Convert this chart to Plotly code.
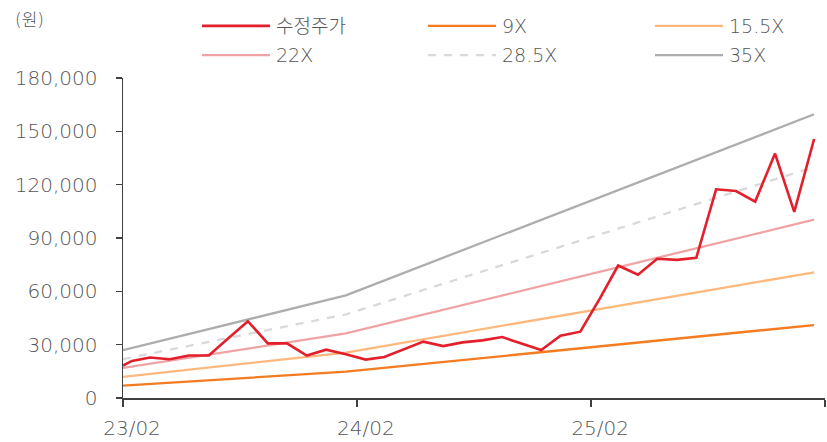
import plotly.graph_objects as go

# ---------------- data ----------------
price_dates = [
    "2023-02-01", "2023-02-15", "2023-03-15", "2023-04-15", "2023-05-15", "2023-06-15",
    "2023-07-15", "2023-08-15", "2023-09-15", "2023-10-15", "2023-11-15", "2023-12-15",
    "2024-01-15", "2024-02-15", "2024-03-15", "2024-04-15", "2024-05-15", "2024-06-15",
    "2024-07-15", "2024-08-15", "2024-09-15", "2024-10-15", "2024-11-15", "2024-12-15",
    "2025-01-15", "2025-02-15", "2025-03-15", "2025-04-15", "2025-05-15", "2025-06-15",
    "2025-07-15", "2025-08-15", "2025-09-15", "2025-10-15", "2025-11-15", "2025-12-15",
    "2026-01-15",
]
price_values = [
    18300, 20850, 22750, 21800, 23870, 23870,
    33500, 43200, 30750, 30750, 23870, 27200,
    24600, 21600, 23100, 27400, 31700, 29200,
    31300, 32400, 34300, 30600, 27000, 35000,
    37300, 56300, 74500, 69300, 78300, 77700,
    78800, 117400, 116400, 110500, 137500, 104700,
    145700,
]

eps_dates = ["2023-02-01", "2024-01-15", "2026-01-15"]
eps_values = [768, 1650, 4560]

band_names = ["9X", "15.5X", "22X", "28.5X", "35X"]
band_multiples = [9, 15.5, 22, 28.5, 35]

x_tick_dates = ["2023-02-01", "2024-02-01", "2025-02-01", "2026-02-01"]
x_tick_labels = ["23/02", "24/02", "25/02", ""]
y_tick_values = [0, 30000, 60000, 90000, 120000, 150000, 180000]

# ---------------- style ----------------
W, H = 827, 442
ML, MR, MT, MB = 123, 2, 78, 42
FONT = "'DejaVu Sans', 'Noto Sans CJK KR', sans-serif"
FONT_W = 300
TXT = "#555555"
AXIS = "#404040"

price_name = "수정주가"
price_color = "#E31F2B"
band_colors = ["#F47B20", "#FDB97D", "#F0A3A4", "#D9D9D9", "#ADADAD"]
band_dash = ["solid", "solid", "solid", "8px,8px", "solid"]

fig = go.Figure()

for name, m, c, d in zip(band_names, band_multiples, band_colors, band_dash):
    fig.add_trace(go.Scatter(
        x=eps_dates, y=[m * e for e in eps_values], mode="lines", name=name,
        line=dict(color=c, width=2.3, dash=d), showlegend=False, hoverinfo="skip",
    ))

fig.add_trace(go.Scatter(
    x=price_dates, y=price_values, mode="lines", name=price_name,
    line=dict(color=price_color, width=2.6), showlegend=False, hoverinfo="skip",
))

# ---------------- custom legend (long line keys as in the reference) ----------------
pw, ph = W - ML - MR, H - MT - MB


def px_x(p):
    return (p - ML) / pw


def px_y(p):
    return (H - MB - p) / ph


legend_items = [(price_name, price_color, "solid")] + list(zip(band_names, band_colors, band_dash))
col_x = [202, 428, 655]
row_y = [25.5, 55]
shapes = []
annotations = []
for i, (name, c, d) in enumerate(legend_items):
    cx = col_x[i % 3]
    ry = row_y[i // 3]
    shapes.append(dict(
        type="line", xref="paper", yref="paper",
        x0=px_x(cx), x1=px_x(cx + 68), y0=px_y(ry), y1=px_y(ry),
        line=dict(color=c, width=2.6 if i == 0 else 2.3, dash="8px,8px" if d != "solid" else "solid"),
    ))
    annotations.append(dict(
        xref="paper", yref="paper", x=px_x(cx + 72), y=px_y(ry),
        xanchor="left", yanchor="middle", text=name, showarrow=False,
        font=dict(family=FONT, size=19, color=TXT, weight=FONT_W),
    ))

annotations.append(dict(
    xref="paper", yref="paper", x=px_x(13), y=px_y(20),
    xanchor="left", yanchor="middle", text="(원)", showarrow=False,
    font=dict(family=FONT, size=17, color=TXT, weight=FONT_W),
))

fig.update_layout(
    width=W, height=H,
    margin=dict(l=ML, r=MR, t=MT, b=MB),
    paper_bgcolor="white", plot_bgcolor="white",
    showlegend=False,
    hovermode=False,
    shapes=shapes,
    annotations=annotations,
    font=dict(family=FONT, size=20, color=TXT, weight=FONT_W),
    xaxis=dict(
        type="date",
        range=["2023-02-01", "2026-02-01"],
        tickvals=x_tick_dates, ticktext=x_tick_labels,
        ticks="outside", ticklen=7, tickwidth=1.5, tickcolor=AXIS,
        showline=True, linecolor=AXIS, linewidth=1.5,
        showgrid=False, zeroline=False,
        tickfont=dict(family=FONT, size=20, color=TXT, weight=FONT_W),
        ticklabelshift=9, ticklabelstandoff=4,
    ),
    yaxis=dict(
        range=[0, 180000],
        tickvals=y_tick_values, tickformat=",",
        ticks="outside", ticklen=6, tickwidth=1.5, tickcolor=AXIS,
        showline=True, linecolor=AXIS, linewidth=1.5,
        showgrid=False, zeroline=False,
        tickfont=dict(family=FONT, size=20, color=TXT, weight=FONT_W),
        ticklabelstandoff=14,
    ),
)

fig.write_html(
    "out.html",
    config={"displayModeBar": False, "staticPlot": True},
    post_script="document.body.style.margin='0';document.body.style.overflow='hidden';",
)
